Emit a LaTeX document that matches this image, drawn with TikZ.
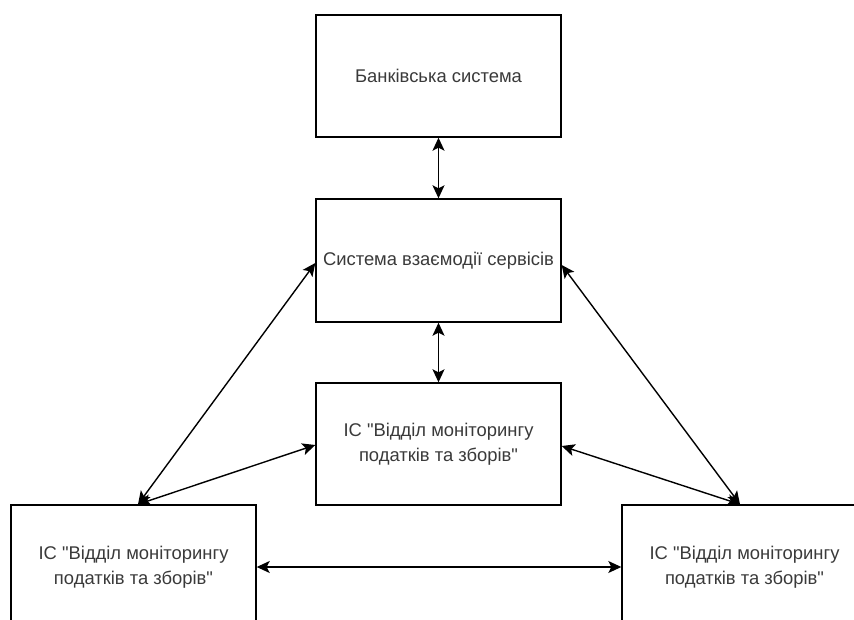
\documentclass[tikz,border=0pt]{standalone}
\usepackage{fontspec}
\newfontfamily\labelfont{Liberation Sans}
\usetikzlibrary{arrows.meta}
\definecolor{txt}{HTML}{3A3A3A}
\tikzset{
  x=1pt, y=-1pt,
  blockbox/.style={draw=black, line width=1.4pt, fill=white, rectangle,
    minimum width=245pt, inner sep=0pt, align=center, text=txt,
    font=\labelfont\fontsize{18.4}{25}\selectfont},
  link/.style={line width=1.4pt, draw=black,
    {Stealth[length=13pt,width=12pt,inset=3pt]}-{Stealth[length=13pt,width=12pt,inset=3pt]}}
}
\begin{document}
\begin{tikzpicture}
\clip (0,0) rectangle (854,620);
\fill[white] (0,0) rectangle (854,620);

% system blocks
\node[blockbox, minimum height=122pt] (bank) at (438.5,76) {Банківська система};
\node[blockbox, minimum height=123pt] (sys) at (438.5,260.5) {Система взаємодії сервісів};
\node[blockbox, minimum height=122pt] (ic) at (438.5,444) {ІС "Відділ моніторингу\\податків та зборів"};
\node[blockbox, minimum height=124pt] (icl) at (133.5,567) {ІС "Відділ моніторингу\\податків та зборів"};
\node[blockbox, minimum height=124pt] (icr) at (744.5,567) {ІС "Відділ моніторингу\\податків та зборів"};

% two-way links
\draw[link] (bank.south) -- (sys.north);
\draw[link] (sys.south) -- (ic.north);
\draw[link] ([xshift=4.5pt]icl.north) -- ([yshift=-2.5pt]sys.west);
\draw[link] ([xshift=4.5pt]icl.north) -- ([yshift=-1pt]ic.west);
\draw[link] ([xshift=-4.5pt]icr.north) -- ([yshift=-4.5pt]sys.east);
\draw[link] ([xshift=-4.5pt]icr.north) -- ([yshift=-2pt]ic.east);
\draw[link] (icl.east) -- (icr.west);
\end{tikzpicture}
\end{document}
